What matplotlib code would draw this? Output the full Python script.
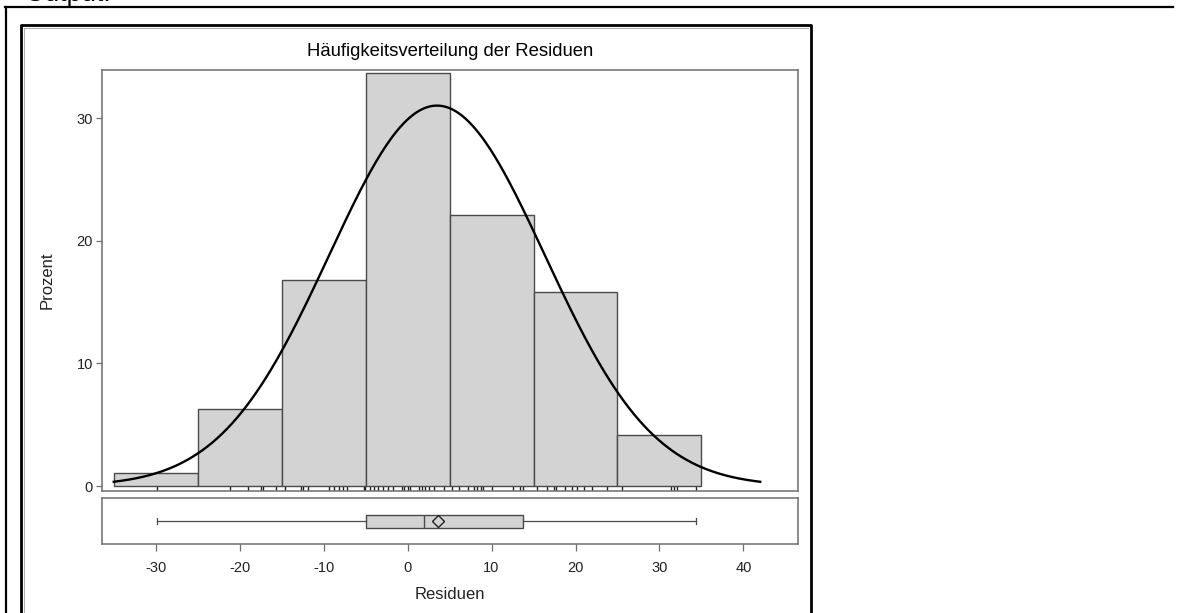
"""Residual histogram with fitted normal curve, rug and boxplot panel."""
import numpy as np
import matplotlib

matplotlib.use("Agg")
import matplotlib.pyplot as plt
from matplotlib.lines import Line2D

plt.rcParams["font.family"] = ["Liberation Sans", "DejaVu Sans"]
plt.rcParams["axes.unicode_minus"] = False

W, H = 1177, 613

# histogram (percent per 10-unit bin)
bin_mids = [-30, -20, -10, 0, 10, 20, 30]
bin_pct = [1.1, 6.3, 16.8, 33.7, 22.1, 15.8, 4.2]
bin_width = 10

# fitted normal
fit_mu = 3.5
fit_sigma = 12.85
curve_range = (-35, 42)

# individual residuals shown as rug ticks
rug = [-29.8, -21.2, -19.0, -17.5, -17.2, -15.7, -14.6, -12.7, -12.5, -11.9,
       -9.4, -8.8, -8.2, -7.7, -7.2, -5.2, -5.1, -4.5, -4.0, -3.5, -2.9,
       -2.3, -1.7, -0.7, -0.4, 0.0, 0.3, 1.4, 1.7, 2.1, 2.5, 3.1, 4.3, 5.3,
       6.1, 7.2, 7.9, 8.3, 8.7, 9.0, 10.0, 12.6, 13.4, 13.7, 15.4, 16.6,
       17.4, 17.7, 18.7, 19.6, 20.2, 21.0, 22.0, 23.7, 25.5, 31.4, 31.7,
       32.1, 34.4]

# boxplot summary
box_stats = dict(whislo=-29.8, q1=-4.9, med=2.0, mean=3.6, q3=13.8, whishi=34.4)

x_ticks = [-30, -20, -10, 0, 10, 20, 30, 40]
y_ticks = [0, 10, 20, 30]

FRAME = "#6e6e6e"
FILL = "#d3d3d3"
TXT = "#222222"


def fx(x):
    return x / W


def fy(y):
    return 1 - y / H


def pline(fig, xs, ys, **kw):
    fig.add_artist(Line2D([fx(v) for v in xs], [fy(v) for v in ys],
                          transform=fig.transFigure, **kw))


fig = plt.figure(figsize=(W / 100, H / 100), dpi=100)

# page decoration
fig.text(fx(25), fy(1), "Output:", fontsize=19, va="baseline", ha="left", color="black")
pline(fig, [5, 1173], [7.3, 7.3], color="black", lw=1.6)
pline(fig, [6.3, 6.3], [7.3, 613], color="black", lw=1.6)
pline(fig, [21.3, 21.3, 810.5, 810.5], [613, 25.3, 25.3, 613], color="black", lw=2.0)
pline(fig, [23.5, 23.5, 808.3], [613, 27.6, 27.6], color="#b0b0b0", lw=0.8)

xlim = (-36.4, 46.5)
ax = fig.add_axes([fx(102), fy(490.7), fx(798) - fx(102), fy(70) - fy(490.7)])
axb = fig.add_axes([fx(102), fy(544.3), fx(798) - fx(102), fy(498.3) - fy(544.3)])

ax.bar(bin_mids, bin_pct, width=bin_width, color=FILL, edgecolor="#4a4a4a",
       linewidth=1.0, zorder=2)

xs = np.linspace(curve_range[0], curve_range[1], 400)
dens = 100 * bin_width * np.exp(-0.5 * ((xs - fit_mu) / fit_sigma) ** 2) / (fit_sigma * np.sqrt(2 * np.pi))
ax.plot(xs, dens, color="black", lw=1.7, zorder=3)

ymin = -0.38
ax.vlines(rug, ymin, 0, color="#222222", lw=1.0, zorder=1)

ax.set_xlim(*xlim)
ax.set_ylim(ymin, 33.95)
ax.set_yticks(y_ticks)
ax.tick_params(axis="x", bottom=False, labelbottom=False)
ax.tick_params(axis="y", direction="out", length=4.5, width=0.9, color=FRAME,
               labelsize=10.5, labelcolor=TXT, pad=2)
ax.set_ylabel("Prozent", fontsize=12, color=TXT, labelpad=16)
ax.set_title("Häufigkeitsverteilung der Residuen", fontsize=13.3, color="black", pad=10)

stats = dict(box_stats, fliers=[])
axb.bxp([stats], positions=[0.5], widths=0.29, orientation="horizontal",
        showmeans=True, patch_artist=True, capwidths=0.13,
        boxprops=dict(facecolor=FILL, edgecolor="#4a4a4a", linewidth=1.0),
        medianprops=dict(color="#4a4a4a", linewidth=1.0),
        whiskerprops=dict(color="#4a4a4a", linewidth=0.9),
        capprops=dict(color="#4a4a4a", linewidth=0.9),
        meanprops=dict(marker="D", markerfacecolor="none", markeredgecolor="#222222",
                       markersize=6.5, markeredgewidth=1.0))
axb.set_xlim(*xlim)
axb.set_ylim(0, 1)
axb.set_yticks([])
axb.set_xticks(x_ticks)
axb.tick_params(axis="x", direction="out", length=5, width=0.9, color=FRAME,
                labelsize=10.5, labelcolor=TXT, pad=7)
axb.set_xlabel("Residuen", fontsize=12, color=TXT, labelpad=9)

for a in (ax, axb):
    for s in a.spines.values():
        s.set_color(FRAME)
        s.set_linewidth(1.1)

fig.savefig("out.png", dpi=100)
